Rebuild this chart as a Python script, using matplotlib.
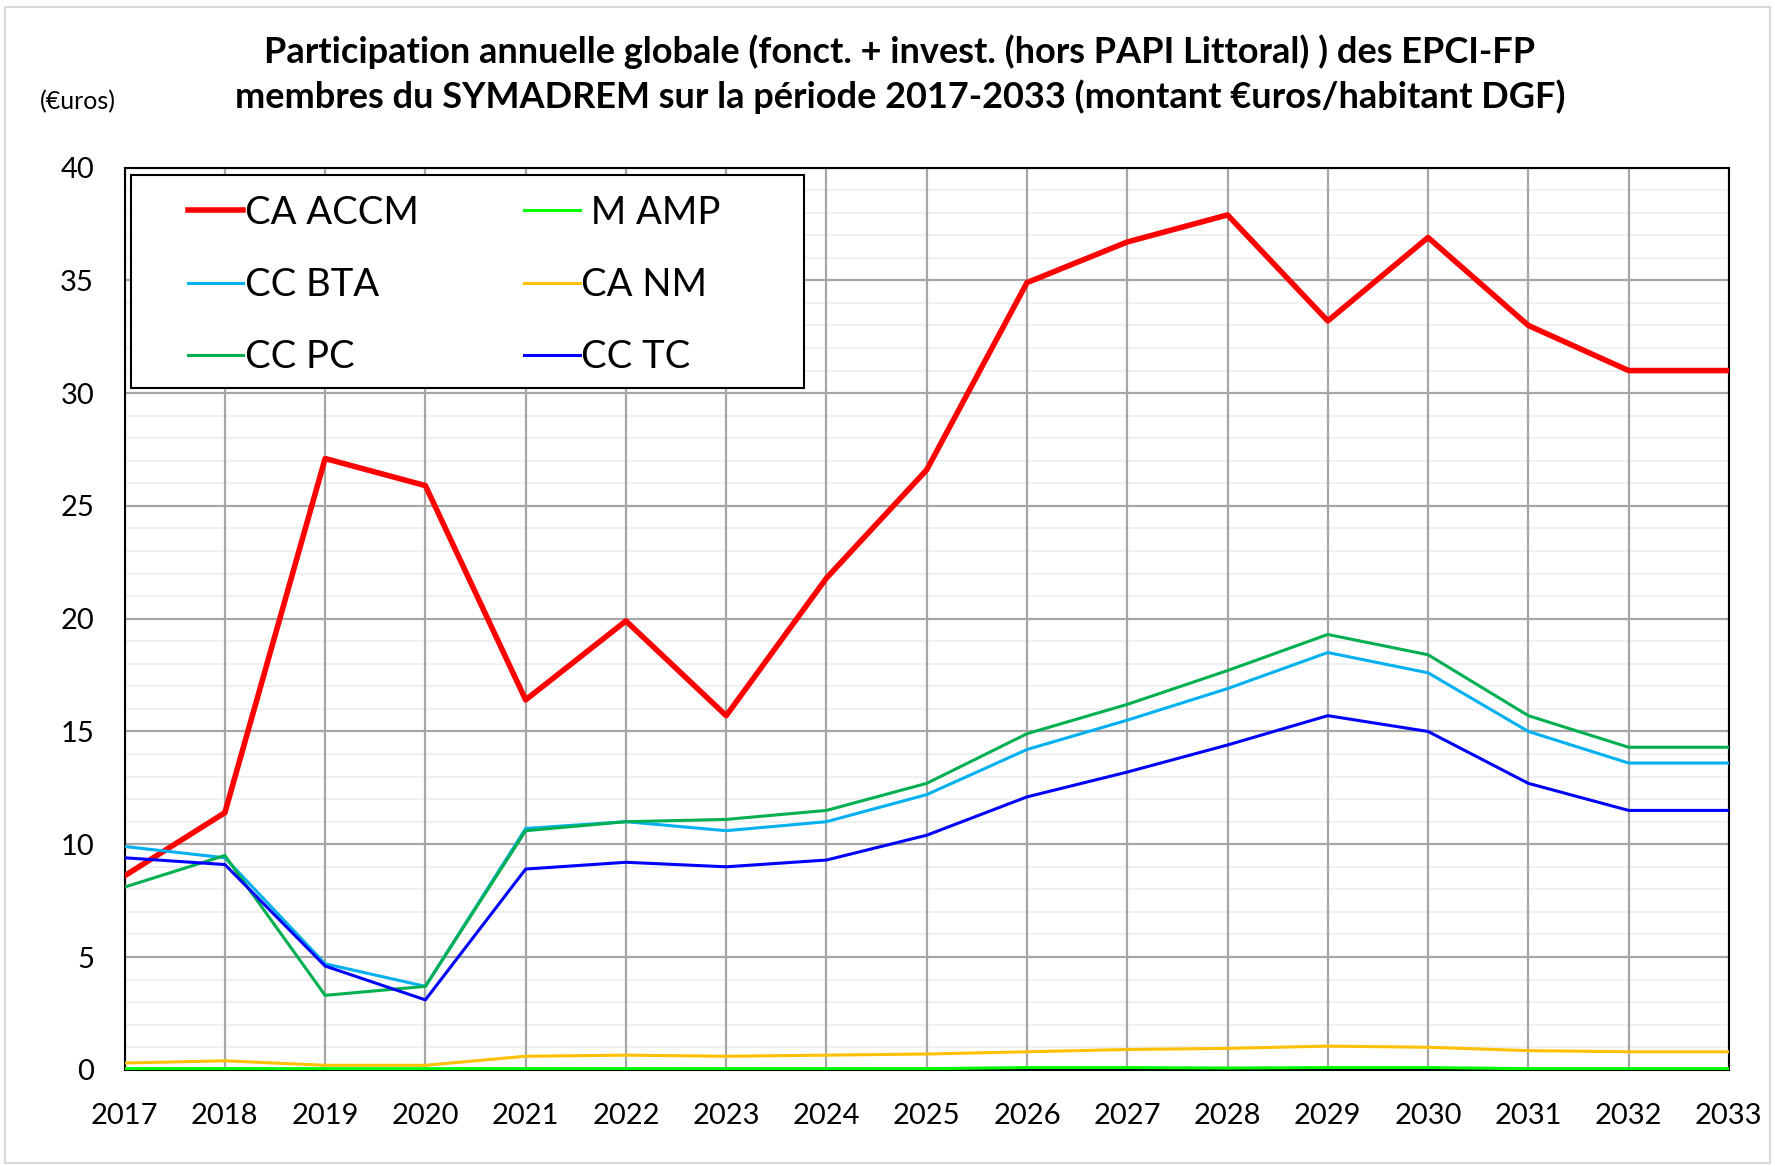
#!/usr/bin/env python3
"""
Participation annuelle des EPCI-FP membres du SYMADREM, 2017-2033
"""
import matplotlib.pyplot as plt
from matplotlib.patches import Rectangle
from matplotlib.ticker import MultipleLocator

plt.rcParams['font.family'] = ['Lato', 'DejaVu Sans']

years = list(range(2017, 2034))

# values (euros / habitant DGF)
ca_accm = [8.6, 11.4, 27.1, 25.9, 16.4, 19.9, 15.7, 21.8, 26.6, 34.9, 36.7, 37.9, 33.2, 36.9, 33.0, 31.0, 31.0]
m_amp = [0.05, 0.05, 0.05, 0.05, 0.05, 0.05, 0.05, 0.05, 0.05, 0.1, 0.1, 0.08, 0.1, 0.1, 0.05, 0.05, 0.05]
cc_bta = [9.9, 9.4, 4.7, 3.7, 10.7, 11.0, 10.6, 11.0, 12.2, 14.2, 15.5, 16.9, 18.5, 17.6, 15.0, 13.6, 13.6]
ca_nm = [0.3, 0.4, 0.2, 0.2, 0.6, 0.65, 0.6, 0.65, 0.7, 0.8, 0.9, 0.95, 1.05, 1.0, 0.85, 0.8, 0.8]
cc_pc = [8.1, 9.5, 3.3, 3.7, 10.6, 11.0, 11.1, 11.5, 12.7, 14.9, 16.2, 17.7, 19.3, 18.4, 15.7, 14.3, 14.3]
cc_tc = [9.4, 9.1, 4.6, 3.1, 8.9, 9.2, 9.0, 9.3, 10.4, 12.1, 13.2, 14.4, 15.7, 15.0, 12.7, 11.5, 11.5]

fig = plt.figure(figsize=(17.75, 11.66), dpi=100)
ax = fig.add_axes([0.0702, 0.0825, 0.9038, 0.7738])

# outer chart border (Excel style)
fig.patches.append(Rectangle((0.003, 0.003), 0.994, 0.991, transform=fig.transFigure,
                             fill=False, edgecolor='#D9D9D9', linewidth=1.5))

l_accm, = ax.plot(years, ca_accm, color='#FF0000', linewidth=4.0, label='CA ACCM', zorder=3)
l_amp, = ax.plot(years, m_amp, color='#00FF00', linewidth=2.2, label=' M AMP', zorder=4)
l_bta, = ax.plot(years, cc_bta, color='#00B0F0', linewidth=2.2, label='CC BTA', zorder=3)
l_nm, = ax.plot(years, ca_nm, color='#FFC000', linewidth=2.2, label='CA NM', zorder=3)
l_pc, = ax.plot(years, cc_pc, color='#00B050', linewidth=2.2, label='CC PC', zorder=3)
l_tc, = ax.plot(years, cc_tc, color='#0000FF', linewidth=2.2, label='CC TC', zorder=3)

ax.set_xlim(2017, 2033)
ax.set_ylim(0, 40)
ax.set_xticks(years)
ax.yaxis.set_major_locator(MultipleLocator(5))
ax.tick_params(axis='both', which='both', length=0, labelsize=21)
ax.tick_params(axis='x', pad=24)
ax.tick_params(axis='y', pad=22)

# faint minor lines every unit, under the major grid
minor_y = [v for v in range(1, 40) if v % 5 != 0]
ax.hlines(minor_y, 2017, 2033, colors='#F0F0F0', linewidth=1.4, zorder=0.3)
ax.grid(True, which='major', color='#A6A6A6', linewidth=1.6)
ax.set_axisbelow(True)
for sp in ax.spines.values():
    sp.set_color('black')
    sp.set_linewidth(1.5)

# legend box drawn separately so the inner padding matches
ax.add_patch(Rectangle((0.0042, 0.7553), 0.4192, 0.2359, transform=ax.transAxes,
                       facecolor='white', edgecolor='black', linewidth=1.5, zorder=5))
leg = ax.legend(handles=[l_accm, l_bta, l_pc, l_amp, l_nm, l_tc], ncol=2,
                loc='upper left', bbox_to_anchor=(0.0395, 0.970), fontsize=27.5,
                frameon=False, handlelength=1.45, handletextpad=0.05, columnspacing=2.75,
                labelspacing=0.95, borderpad=0.0, borderaxespad=0.0)
leg.set_zorder(6)

fig.text(0.507, 0.956, 'Participation annuelle globale (fonct. + invest. (hors PAPI Littoral) ) des EPCI-FP',
         ha='center', va='center', fontsize=26, fontweight='bold')
fig.text(0.507, 0.917, 'membres du SYMADREM sur la période 2017-2033 (montant €uros/habitant DGF)',
         ha='center', va='center', fontsize=26, fontweight='bold')
fig.text(0.044, 0.913, '(€uros)', ha='center', va='center', fontsize=18)

plt.savefig('out.png', dpi=100, facecolor='white')
